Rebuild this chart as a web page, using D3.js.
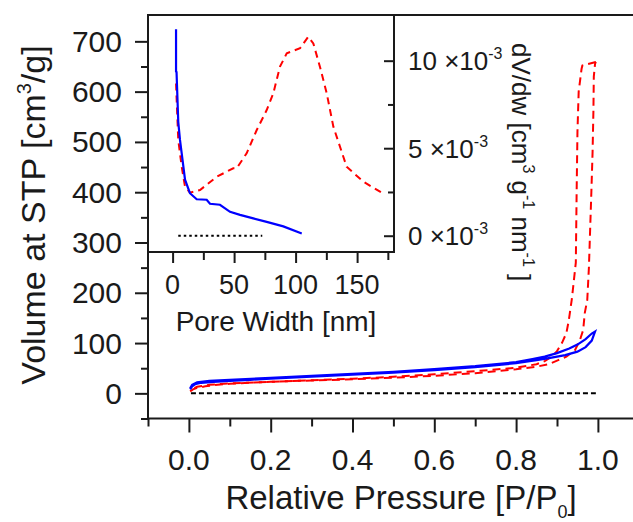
<!DOCTYPE html>
<html><head><meta charset="utf-8">
<script src="https://cdn.jsdelivr.net/npm/d3@7"></script>
<style>body{margin:0;background:#fff}svg{display:block;font-family:"Liberation Sans",Arial,sans-serif}</style>
</head><body><svg id="c" width="633" height="522"></svg>
<script>
// ---- Main isotherm data (relative pressure P/P0, volume cm3/g) ----
const blueAdsP = [0.003,0.008,0.015,0.03,0.06,0.1,0.15,0.2,0.3,0.4,0.5,0.6,0.7,0.8,0.85,0.88,0.92,0.95,0.97,0.985,0.993];
const blueAdsV = [8,14,18,21,23,25,27,29,33,37,41,46,52,60,66,70,76,83,92,105,123];
const blueDesP = [0.993,0.985,0.97,0.95,0.93,0.9,0.87,0.84,0.8,0.7,0.6,0.5,0.4,0.3,0.2,0.1,0.05,0.02,0.008,0.003];
const blueDesV = [123,119,108,97,89,80,73,68,62,54,48,43,39,35,31,27,25,22,17,10];
const redAdsP = [0.003,0.01,0.02,0.04,0.07,0.1,0.15,0.2,0.3,0.4,0.5,0.6,0.7,0.8,0.85,0.88,0.903,0.923,0.944,0.956,0.964,0.968,0.974,0.978,0.98,0.984,0.987,0.989,0.99,0.993,0.995];
const redAdsV = [4,8,11,14,17,19,21,23,25.5,28,31,35,40,48,53,58,66,73,86,106,126,160,186,250,300,400,480,560,630,655,659];
const redDesP = [0.995,0.962,0.96,0.953,0.95,0.948,0.946,0.94,0.936,0.929,0.923,0.912,0.9,0.887,0.87,0.85,0.8,0.7,0.6,0.5,0.4,0.3,0.2,0.1,0.05,0.02,0.008];
const redDesV = [659,652,645,600,520,400,260,215,186,146,120,100,84,73,64,58,51,44,38,33,29,26,23,20,17,13,8];
const zeroLineP = [0.005,0.995];
// ---- Inset data: pore width (nm) ----
const psdW = [2.8,3.3,4.6,7.4,10.1,14.1,22.3,35.9,49.3,52.1,60.2,68.4,76.5,81.9,87.3,92.8,103.6,110.3,114.4,120,125.3,130.7,141.5,155,170];
const psdV = [8.7,7.75,5.47,3.94,2.8,2.46,2.61,3.37,3.85,3.85,4.71,6.04,7.18,8.14,9.66,10.42,10.71,11.37,10.99,9.6,8.14,6.23,3.94,3.09,2.46]; // x10^-3
const cumW = [2.8,2.8,3.2,4.6,6.0,7.4,10.1,14.1,19.6,27.7,30.4,38.5,46.7,54.8,65.6,76.5,90,105];
const cumV = [724,640,639,540,504,477,425,398,386,385,377,375,361,355,348,341,332,318];
const insetZeroW = [4.6,72.9];
// ---- Ticks ----
const xMajor = [0,0.2,0.4,0.6,0.8,1.0];
const xMinor = [-0.1,0.1,0.3,0.5,0.7,0.9,1.1];
const yMajor = [0,100,200,300,400,500,600,700];
const yMinor = [-50,50,150,250,350,450,550,650];
const ixMajor = [0,50,100,150];
const ixMinor = [25,75,125,175];
const iyMajor = [0,5,10];
const iyMinor = [2.5,7.5];

const svg = d3.select("#c");
const ink = "#1a1a1a";
const x = d3.scaleLinear().domain([-0.1,1.2]).range([148,148+1.3*409]);
const y = d3.scaleLinear().domain([-50,750]).range([418.5,16.2]);
const xi = d3.scaleLinear().domain([-20,180]).range([148,394]);
const yi = d3.scaleLinear().domain([-0.93,12.61]).range([252,15]);

function axisG(axis, tx, ty){
  const g = svg.append("g").attr("transform",`translate(${tx},${ty})`).call(axis);
  g.select(".domain").remove();
  g.selectAll("line").attr("stroke",ink).attr("stroke-width",2);
  return g;
}
// main axes
axisG(d3.axisBottom(x).tickValues(xMajor).tickSize(14).tickFormat(""),0,y(-50));
axisG(d3.axisBottom(x).tickValues(xMinor).tickSize(8).tickFormat(""),0,y(-50));
axisG(d3.axisLeft(y).tickValues(yMajor).tickSize(13).tickFormat(""),148,0);
axisG(d3.axisLeft(y).tickValues(yMinor).tickSize(7).tickFormat(""),148,0);
// main tick labels
svg.append("g").selectAll("text").data(xMajor).join("text")
  .attr("x",d=>x(d)).attr("y",470).attr("text-anchor","middle")
  .attr("font-size",30).attr("fill",ink).text(d=>d.toFixed(1));
svg.append("g").selectAll("text").data(yMajor).join("text")
  .attr("x",122).attr("y",d=>y(d)+10.5).attr("text-anchor","end")
  .attr("font-size",30).attr("fill",ink).text(d=>d);

// curves
const line = d3.line().x(d=>x(d[0])).y(d=>y(d[1]));
const zip = (a,b)=>a.map((v,i)=>[v,b[i]]);
svg.append("path").attr("d",line(zeroLineP.map(p=>[p,0]))).attr("fill","none")
  .attr("stroke","#000").attr("stroke-width",2).attr("stroke-dasharray","5,3");
[[redAdsP,redAdsV],[redDesP,redDesV]].forEach(([p,v])=>{
  svg.append("path").attr("d",line(zip(p,v))).attr("fill","none")
    .attr("stroke","#ff0000").attr("stroke-width",2).attr("stroke-dasharray","8,5");
});
svg.append("path").attr("d",line(zip(blueAdsP,blueAdsV).concat(zip(blueDesP,blueDesV)))).attr("fill","none")
  .attr("stroke","#0000ff").attr("stroke-width",2.2);

// main frame (top, left, bottom)
svg.append("path").attr("d",`M${x(-0.1)},${y(-50)}L${x(1.2)},${y(-50)}M148,${y(-50)}L148,15M148,15L640,15`)
  .attr("stroke",ink).attr("stroke-width",2).attr("fill","none");

// ---- inset ----
svg.append("rect").attr("x",148).attr("y",15).attr("width",394-148).attr("height",252-15)
  .attr("fill","#fff").attr("stroke",ink).attr("stroke-width",2);
axisG(d3.axisBottom(xi).tickValues(ixMajor).tickSize(11).tickFormat(""),0,252);
axisG(d3.axisBottom(xi).tickValues(ixMinor).tickSize(8).tickFormat(""),0,252);
axisG(d3.axisLeft(yi).tickValues(iyMajor).tickSize(10).tickFormat(""),394,0);
axisG(d3.axisLeft(yi).tickValues(iyMinor).tickSize(6).tickFormat(""),394,0);
svg.append("g").selectAll("text").data(ixMajor).join("text")
  .attr("x",d=>xi(d)).attr("y",294).attr("text-anchor","middle")
  .attr("font-size",27).attr("fill",ink).text(d=>d);
const rl = svg.append("g").selectAll("text").data(iyMajor).join("text")
  .attr("x",408).attr("y",d=>yi(d)+9.5).attr("font-size",26).attr("fill",ink);
rl.append("tspan").text(d=>d+" \u00d710");
rl.append("tspan").attr("font-size",16).attr("dy",-11).text("-3");

const li = d3.line().x(d=>xi(d[0])).y(d=>yi(d[1]));
const lc = d3.line().x(d=>xi(d[0])).y(d=>y(d[1]));
svg.append("path").attr("d",li(insetZeroW.map(w=>[w,0]))).attr("fill","none")
  .attr("stroke","#000").attr("stroke-width",2).attr("stroke-dasharray","2.5,3");
svg.append("path").attr("d",li(zip(psdW,psdV))).attr("fill","none")
  .attr("stroke","#ff0000").attr("stroke-width",2).attr("stroke-dasharray","7,5");
svg.append("path").attr("d",lc(zip(cumW,cumV))).attr("fill","none")
  .attr("stroke","#0000ff").attr("stroke-width",2.2);

// ---- axis titles ----
svg.append("text").attr("x",276).attr("y",331).attr("text-anchor","middle")
  .attr("font-size",28).attr("fill",ink).text("Pore Width [nm]");

const xt = svg.append("text").attr("x",401).attr("y",509).attr("text-anchor","middle")
  .attr("font-size",33).attr("fill",ink);
xt.append("tspan").text("Relative Pressure [P/P");
xt.append("tspan").attr("font-size",18).attr("dy",9).text("0");
xt.append("tspan").attr("dy",-9).text("]");

const yt = svg.append("text").attr("transform","translate(45,215) rotate(-90)")
  .attr("text-anchor","middle").attr("font-size",34).attr("fill",ink);
yt.append("tspan").text("Volume at STP [cm");
yt.append("tspan").attr("font-size",20).attr("dy",-14).text("3");
yt.append("tspan").attr("dy",14).text("/g]");

const rt = svg.append("text").attr("transform","translate(512,43) rotate(90)")
  .attr("font-size",26).attr("fill",ink);
rt.append("tspan").text("dV/dw [cm");
rt.append("tspan").attr("font-size",16).attr("dy",-11).text("3");
rt.append("tspan").attr("dy",11).text(" g");
rt.append("tspan").attr("font-size",16).attr("dy",-11).text("-1");
rt.append("tspan").attr("dy",11).text(" nm");
rt.append("tspan").attr("font-size",16).attr("dy",-11).text("-1");
rt.append("tspan").attr("dy",11).text(" ]");
</script></body></html>
